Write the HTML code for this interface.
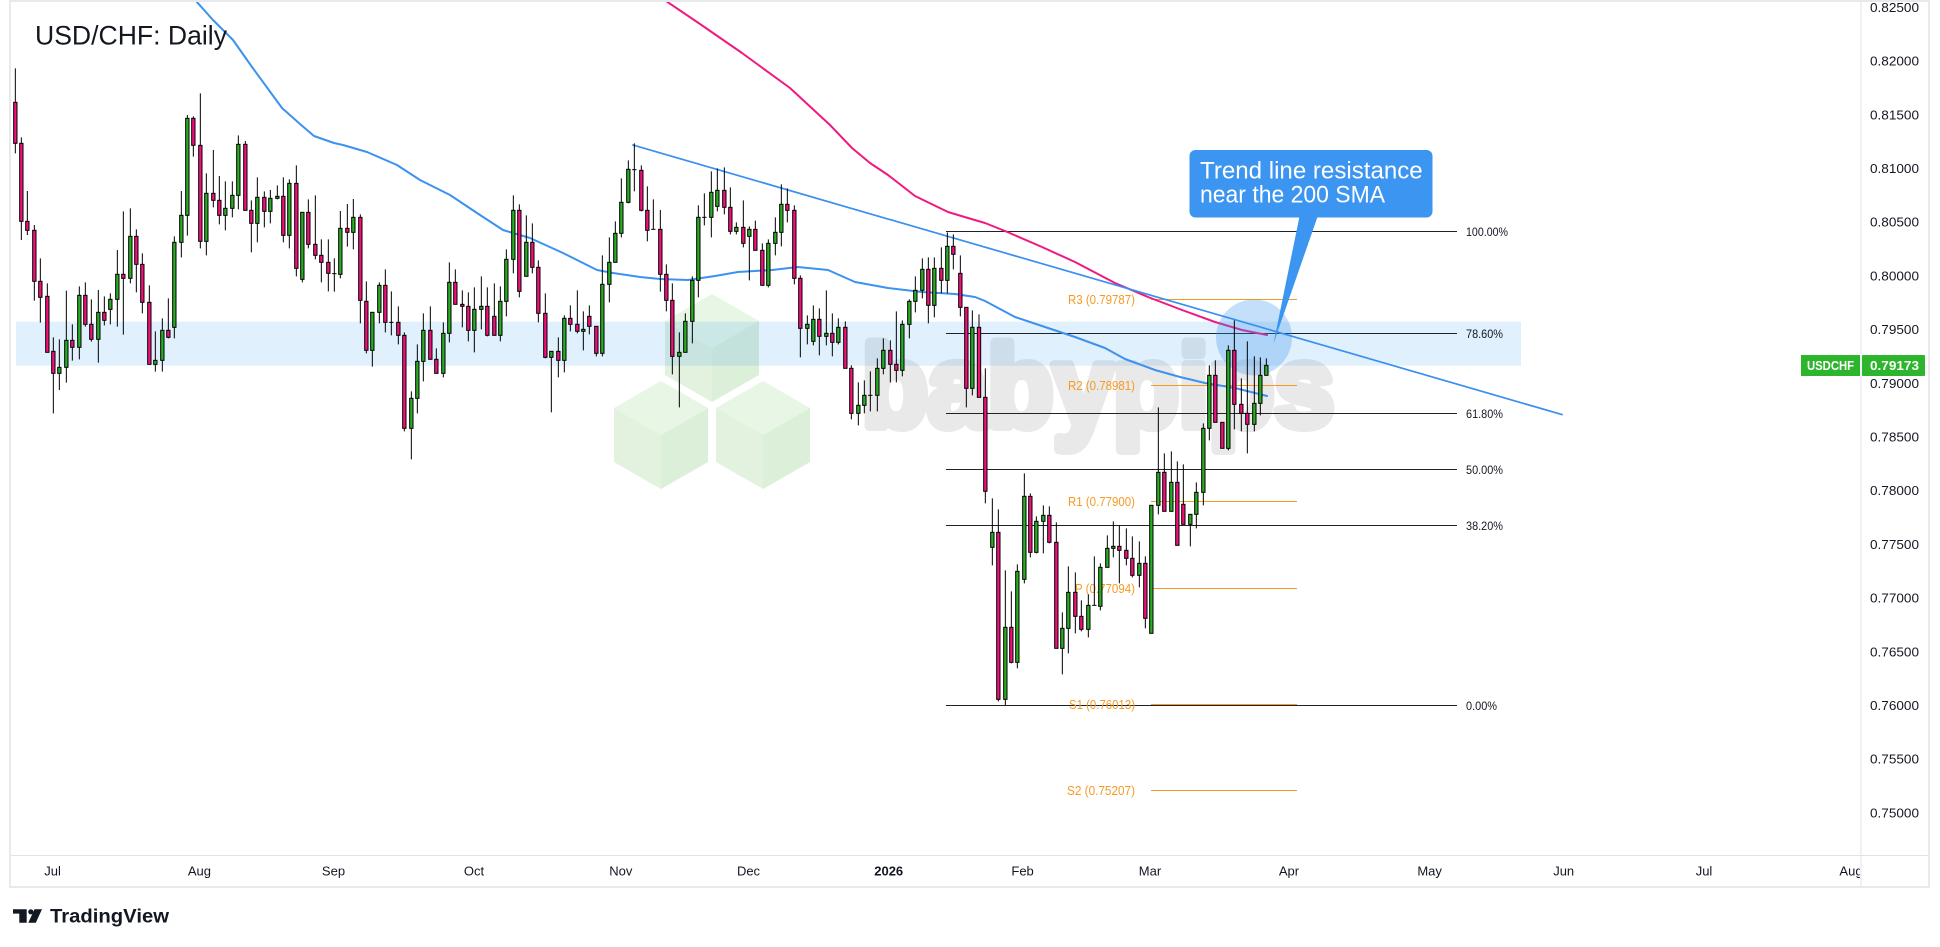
<!DOCTYPE html>
<html><head><meta charset="utf-8"><style>
html,body{margin:0;padding:0;background:#fff;width:1940px;height:947px;overflow:hidden}
svg{display:block}
text{font-family:"Liberation Sans",Arial,sans-serif}
</style></head><body>
<svg width="1940" height="947" viewBox="0 0 1940 947" xmlns="http://www.w3.org/2000/svg">
<defs>
<clipPath id="c"><rect x="11" y="2" width="1849" height="853"/></clipPath>
<clipPath id="t"><rect x="11" y="856" width="1849" height="30"/></clipPath>
</defs>
<rect x="10" y="1" width="1919" height="886" fill="#fff" stroke="#e9e9ec" stroke-width="2"/>

<g clip-path="url(#c)">
<!-- watermark -->
<text x="862" y="426" font-size="115" font-weight="bold" fill="#e9e9e9" stroke="#e9e9e9" stroke-width="10" stroke-linejoin="round" textLength="472" lengthAdjust="spacingAndGlyphs">babypips</text>
<g>
<polygon points="712,294 759,321 712,348 665,321" fill="#e8f6e5"/>
<polygon points="665,321 712,348 712,402 665,375" fill="#e2f2de"/>
<polygon points="712,348 759,321 759,375 712,402" fill="#dcefd8"/>
<polygon points="661,381 708,408 661,435 614,408" fill="#e8f6e5"/>
<polygon points="614,408 661,435 661,489 614,462" fill="#e2f2de"/>
<polygon points="661,435 708,408 708,462 661,489" fill="#dcefd8"/>
<polygon points="763,381 810,408 763,435 716,408" fill="#e8f6e5"/>
<polygon points="716,408 763,435 763,489 716,462" fill="#e2f2de"/>
<polygon points="763,435 810,408 810,462 763,489" fill="#dcefd8"/>
</g>
<!-- zone -->
<rect x="16" y="321.7" width="1505" height="44" fill="#2196f3" fill-opacity="0.14"/>

<!-- fib lines -->
<g stroke="#1e222d" stroke-width="1">
<line x1="946" y1="231.5" x2="1457" y2="231.5"/>
<line x1="946" y1="333.5" x2="1457" y2="333.5"/>
<line x1="946" y1="413.5" x2="1457" y2="413.5"/>
<line x1="946" y1="469.5" x2="1457" y2="469.5"/>
<line x1="946" y1="525.5" x2="1457" y2="525.5"/>
<line x1="946" y1="705.5" x2="1457" y2="705.5"/>
</g>
<g font-size="12" fill="#131722">
<text x="1466" y="236" textLength="42" lengthAdjust="spacingAndGlyphs">100.00%</text>
<text x="1466" y="338" textLength="37" lengthAdjust="spacingAndGlyphs">78.60%</text>
<text x="1466" y="418" textLength="37" lengthAdjust="spacingAndGlyphs">61.80%</text>
<text x="1466" y="474" textLength="37" lengthAdjust="spacingAndGlyphs">50.00%</text>
<text x="1466" y="530" textLength="37" lengthAdjust="spacingAndGlyphs">38.20%</text>
<text x="1466" y="710" textLength="31" lengthAdjust="spacingAndGlyphs">0.00%</text>
</g>
<!-- pivots -->
<g stroke="#f59a23" stroke-width="1">
<line x1="1151" y1="299.5" x2="1297" y2="299.5"/>
<line x1="1151" y1="385.5" x2="1297" y2="385.5"/>
<line x1="1151" y1="501.5" x2="1297" y2="501.5"/>
<line x1="1151" y1="588.5" x2="1297" y2="588.5"/>
<line x1="1151" y1="704.5" x2="1297" y2="704.5"/>
<line x1="1151" y1="790.5" x2="1297" y2="790.5"/>
</g>
<g font-size="13" fill="#f59a23" text-anchor="end">
<text x="1135" y="304" textLength="67" lengthAdjust="spacingAndGlyphs">R3 (0.79787)</text>
<text x="1135" y="390" textLength="67" lengthAdjust="spacingAndGlyphs">R2 (0.78981)</text>
<text x="1135" y="506" textLength="67" lengthAdjust="spacingAndGlyphs">R1 (0.77900)</text>
<text x="1135" y="593" textLength="60" lengthAdjust="spacingAndGlyphs">P (0.77094)</text>
<text x="1135" y="709" textLength="66" lengthAdjust="spacingAndGlyphs">S1 (0.76013)</text>
<text x="1135" y="795" textLength="68" lengthAdjust="spacingAndGlyphs">S2 (0.75207)</text>
</g>

<!-- SMAs and trend line -->
<g fill="none" stroke-linejoin="round" stroke-linecap="round">
<path d="M196 1 L213 20 L233 40 L252 67 L282 108 L300 124 L314 136 L334 143 L343 145 L367 152 L397 165 L420 180 L450 195 L477 213 L503 230 L530 238 L563 253 L597 270 L613 273 L640 277 L660 279 L688 280 L715 276 L738 272 L772 270 L798 267 L828 270 L855 282 L888 288 L922 292 L955 294 L975 297 L985 301 L1015 317 L1045 327 L1075 337 L1105 348 L1125 359 L1155 370 L1180 377 L1205 383 L1235 388 L1267 396" stroke="#3c92ee" stroke-width="2"/>
<path d="M666 1 L700 24 L742 53 L790 88 L830 125 L852 148 L870 163 L888 175 L915 196 L948 212 L968 218 L985 223 L1005 231 L1042 247 L1075 262 L1115 283 L1148 297 L1182 310 L1215 322 L1242 330 L1267 335" stroke="#f0197d" stroke-width="2"/>
<line x1="633" y1="145" x2="1562" y2="414.6" stroke="#3a8ff0" stroke-width="1.7"/>
</g>

<circle cx="1254" cy="337.5" r="38" fill="#3d94f0" fill-opacity="0.3"/>

<!-- candles group A -->
<g transform="translate(5 50) scale(0.333333)" stroke="#000" stroke-width="3">
<path fill="none" d="M31 55V310M49 262V570M67 423V555M88 525V752M106 625V818M127 700V907M145 862V1090M163 868V1020M184 722V998M202 823V932M223 709V928M241 697V830M259 748V875M280 720V938M298 739V826M316 730V823M337 600V830M355 484V854M376 475V700M394 538V727M412 610V790M433 706V943M451 844V965M472 805V965M490 745V865M508 559V865M529 423V622M547 195V557M565 199V320M586 130V595M604 370V616M625 300V472M643 378V523M661 394V541M682 394V502M700 256V478M721 273V481M739 451V607M757 382V577M778 424V532M796 420V520M817 406V448M835 382V577M853 388V595M874 346V679M892 487V697M910 448V595M931 436V628M949 568V697M970 568V724"/>
<g fill="#f50f7b">
<rect x="26" y="157" width="10" height="123"/><rect x="44" y="280" width="10" height="234"/><rect x="62" y="514" width="10" height="27"/><rect x="83" y="541" width="10" height="153"/><rect x="101" y="694" width="10" height="48"/><rect x="122" y="739" width="10" height="168"/><rect x="140" y="904" width="10" height="66"/><rect x="197" y="871" width="10" height="21"/><rect x="236" y="736" width="10" height="87"/><rect x="254" y="823" width="10" height="45"/><rect x="293" y="787" width="10" height="24"/><rect x="350" y="673" width="10" height="12"/><rect x="389" y="559" width="10" height="84"/><rect x="407" y="643" width="10" height="114"/><rect x="428" y="757" width="10" height="186"/><rect x="485" y="841" width="10" height="21"/><rect x="560" y="205" width="10" height="81"/><rect x="581" y="286" width="10" height="288"/><rect x="620" y="430" width="10" height="21"/><rect x="638" y="451" width="10" height="45"/><rect x="716" y="283" width="10" height="198"/><rect x="734" y="481" width="10" height="39"/><rect x="773" y="442" width="10" height="42"/><rect x="830" y="439" width="10" height="117"/><rect x="869" y="400" width="10" height="255"/><rect x="905" y="487" width="10" height="96"/><rect x="926" y="583" width="10" height="33"/><rect x="944" y="616" width="10" height="21"/><rect x="965" y="637" width="10" height="33"/>
</g>
<g fill="#28ae22">
<rect x="158" y="952" width="10" height="18"/><rect x="179" y="871" width="10" height="81"/><rect x="218" y="736" width="10" height="156"/><rect x="275" y="787" width="10" height="81"/><rect x="311" y="748" width="10" height="30"/><rect x="332" y="673" width="10" height="75"/><rect x="371" y="559" width="10" height="126"/><rect x="446" y="931" width="10" height="12"/><rect x="467" y="841" width="10" height="90"/><rect x="503" y="577" width="10" height="255"/><rect x="524" y="496" width="10" height="81"/><rect x="542" y="205" width="10" height="291"/><rect x="599" y="430" width="10" height="144"/><rect x="656" y="475" width="10" height="21"/><rect x="677" y="436" width="10" height="39"/><rect x="695" y="283" width="10" height="153"/><rect x="752" y="442" width="10" height="78"/><rect x="791" y="445" width="10" height="39"/><rect x="812" y="439" width="10" height="6"/><rect x="848" y="400" width="10" height="156"/><rect x="887" y="487" width="10" height="201"/>
</g>
</g>

<!-- candles group B -->
<g transform="translate(330 130) scale(0.333333)" stroke="#000" stroke-width="3">
<path fill="none" d="M13 385V485M31 243V445M52 222V350M70 207V358M91 253V580M109 454V670M127 547V710M148 457V580M166 418V607M184 484V616M205 529V643M223 607V904M244 784V988M262 643V850M280 550V754M301 529V688M319 655V730M340 577V742M358 397V637M376 418V523M397 481V592M415 487V634M433 472V667M454 439V598M472 472V619M493 460V616M511 469V634M529 358V559M550 196V430M568 223V502M589 256V439M607 280V430M625 391V577M646 490V685M664 664V847M685 622V742M703 556V727M721 526V604M742 481V610M760 544V661M778 526V613M799 589V679M817 376V679M838 322V517M856 274V397M874 145V322M895 91V220M913 40V184M934 106V244M952 169V334M970 208V298"/>
<g fill="#000" stroke="none">
<rect x="6.5" y="429.5" width="13" height="3"/><rect x="177.5" y="575.5" width="13" height="3"/><rect x="906.5" y="117.5" width="13" height="3"/><rect x="963.5" y="296.5" width="13" height="3"/>
</g>
<g fill="#f50f7b">
<rect x="47" y="295" width="10" height="12"/><rect x="86" y="262" width="10" height="249"/><rect x="104" y="514" width="10" height="147"/><rect x="161" y="466" width="10" height="111"/><rect x="200" y="577" width="10" height="39"/><rect x="218" y="616" width="10" height="279"/><rect x="296" y="601" width="10" height="87"/><rect x="314" y="688" width="10" height="42"/><rect x="371" y="457" width="10" height="66"/><rect x="392" y="523" width="10" height="6"/><rect x="410" y="529" width="10" height="72"/><rect x="467" y="529" width="10" height="87"/><rect x="488" y="559" width="10" height="57"/><rect x="563" y="241" width="10" height="243"/><rect x="602" y="337" width="10" height="75"/><rect x="620" y="412" width="10" height="138"/><rect x="641" y="550" width="10" height="132"/><rect x="680" y="664" width="10" height="27"/><rect x="716" y="565" width="10" height="18"/><rect x="737" y="583" width="10" height="21"/><rect x="773" y="559" width="10" height="30"/><rect x="794" y="589" width="10" height="81"/><rect x="929" y="121" width="10" height="120"/><rect x="947" y="241" width="10" height="60"/>
</g>
<g fill="#28ae22">
<rect x="26" y="295" width="10" height="138"/><rect x="65" y="262" width="10" height="45"/><rect x="122" y="547" width="10" height="114"/><rect x="143" y="466" width="10" height="81"/><rect x="239" y="805" width="10" height="90"/><rect x="257" y="694" width="10" height="111"/><rect x="275" y="601" width="10" height="93"/><rect x="335" y="610" width="10" height="120"/><rect x="353" y="457" width="10" height="153"/><rect x="428" y="538" width="10" height="63"/><rect x="449" y="529" width="10" height="9"/><rect x="506" y="514" width="10" height="102"/><rect x="524" y="388" width="10" height="126"/><rect x="545" y="241" width="10" height="147"/><rect x="584" y="337" width="10" height="102"/><rect x="659" y="664" width="10" height="18"/><rect x="698" y="565" width="10" height="126"/><rect x="755" y="598" width="10" height="6"/><rect x="812" y="463" width="10" height="207"/><rect x="833" y="397" width="10" height="66"/><rect x="851" y="310" width="10" height="87"/><rect x="869" y="217" width="10" height="93"/><rect x="890" y="118" width="10" height="99"/>
</g>
</g>

<!-- candles group C -->
<g transform="translate(655 150) scale(0.333333)" stroke="#000" stroke-width="3">
<path fill="none" d="M16 180V425M34 343V484M52 400V673M73 547V772M91 490V607M112 379V580M130 166V442M148 130V226M169 64V262M187 55V184M208 52V193M226 112V253M244 217V253M265 151V292M283 229V391M301 212V301M322 280V406M340 268V412M361 202V316M379 103V289M397 115V217M418 166V403M436 376V622M457 496V583M475 466V586M493 475V616M514 421V586M532 490V619M550 505V583M571 514V655M589 646V808M610 697V826M628 691V790M646 664V784M667 625V784M685 565V673M706 571V697M724 484V697M742 511V679M763 448V565M781 379V487M802 325V445M820 322V520M838 322V502M859 292V430M877 247V430M895 253V358M916 316V499M934 472V772M952 481V736"/>
<g fill="#000" stroke="none">
<rect x="141.5" y="200.5" width="13" height="3"/><rect x="639.5" y="734.5" width="13" height="3"/>
</g>
<g fill="#f50f7b">
<rect x="11" y="238" width="10" height="135"/><rect x="29" y="373" width="10" height="78"/><rect x="47" y="451" width="10" height="168"/><rect x="203" y="121" width="10" height="51"/><rect x="221" y="172" width="10" height="72"/><rect x="260" y="232" width="10" height="48"/><rect x="296" y="238" width="10" height="63"/><rect x="317" y="301" width="10" height="105"/><rect x="392" y="163" width="10" height="18"/><rect x="413" y="181" width="10" height="204"/><rect x="431" y="385" width="10" height="150"/><rect x="488" y="508" width="10" height="51"/><rect x="527" y="550" width="10" height="27"/><rect x="566" y="532" width="10" height="123"/><rect x="584" y="655" width="10" height="135"/><rect x="701" y="601" width="10" height="42"/><rect x="719" y="643" width="10" height="18"/><rect x="815" y="358" width="10" height="108"/><rect x="854" y="355" width="10" height="36"/><rect x="890" y="289" width="10" height="24"/><rect x="911" y="370" width="10" height="102"/><rect x="929" y="472" width="10" height="243"/>
</g>
<g fill="#28ae22">
<rect x="68" y="607" width="10" height="12"/><rect x="86" y="514" width="10" height="93"/><rect x="107" y="391" width="10" height="123"/><rect x="125" y="202" width="10" height="189"/><rect x="164" y="127" width="10" height="75"/><rect x="182" y="121" width="10" height="48"/><rect x="239" y="232" width="10" height="12"/><rect x="278" y="238" width="10" height="21"/><rect x="335" y="280" width="10" height="126"/><rect x="356" y="247" width="10" height="33"/><rect x="374" y="163" width="10" height="84"/><rect x="452" y="523" width="10" height="12"/><rect x="470" y="508" width="10" height="66"/><rect x="509" y="550" width="10" height="9"/><rect x="545" y="532" width="10" height="45"/><rect x="605" y="766" width="10" height="24"/><rect x="623" y="736" width="10" height="30"/><rect x="662" y="655" width="10" height="81"/><rect x="680" y="601" width="10" height="54"/><rect x="737" y="523" width="10" height="138"/><rect x="758" y="454" width="10" height="69"/><rect x="776" y="421" width="10" height="33"/><rect x="797" y="358" width="10" height="63"/><rect x="833" y="355" width="10" height="111"/><rect x="872" y="289" width="10" height="102"/><rect x="947" y="532" width="10" height="183"/>
</g>
</g>

<!-- candles group D -->
<g transform="translate(975 220) scale(0.333333)" stroke="#000" stroke-width="3">
<path fill="none" d="M12 283V532M31 445V850M52 835V1036M70 868V1444M91 1051V1455M109 1114V1330M127 1033V1345M148 760V1090M166 820V1012M184 889V1000M205 856V1000M223 859V970M244 907V1285M262 1177V1363M280 1039V1300M301 1057V1240M319 1141V1234M340 1123V1252M358 1009V1156M376 1030V1171M397 946V1042M415 904V1012M433 916V1090M454 925V1036M472 949V1072M493 964V1102M511 1009V1225M529 856V1240M550 562V883M568 700V874M589 694V874M607 724V976M625 733V913M646 883V979M664 787V925M685 610V856M703 436V661M721 421V607M742 607V685M760 376V691M778 301V628M799 475V634M817 364V700M838 409V634M856 412V586M874 415V466"/>
<g fill="#000" stroke="none">
<rect x="351.5" y="1154.5" width="13" height="3"/>
</g>
<g fill="#f50f7b">
<rect x="7" y="322" width="10" height="210"/><rect x="26" y="532" width="10" height="282"/><rect x="65" y="937" width="10" height="501"/><rect x="104" y="1222" width="10" height="105"/><rect x="161" y="829" width="10" height="168"/><rect x="218" y="886" width="10" height="81"/><rect x="239" y="967" width="10" height="318"/><rect x="296" y="1117" width="10" height="72"/><rect x="314" y="1189" width="10" height="39"/><rect x="428" y="979" width="10" height="12"/><rect x="449" y="991" width="10" height="24"/><rect x="467" y="1015" width="10" height="51"/><rect x="506" y="1030" width="10" height="165"/><rect x="563" y="757" width="10" height="117"/><rect x="602" y="787" width="10" height="189"/><rect x="620" y="853" width="10" height="60"/><rect x="716" y="466" width="10" height="141"/><rect x="737" y="607" width="10" height="78"/><rect x="773" y="391" width="10" height="162"/><rect x="794" y="553" width="10" height="27"/><rect x="812" y="580" width="10" height="33"/>
</g>
<g fill="#28ae22">
<rect x="47" y="937" width="10" height="45"/><rect x="86" y="1222" width="10" height="216"/><rect x="122" y="1054" width="10" height="273"/><rect x="143" y="829" width="10" height="249"/><rect x="179" y="904" width="10" height="93"/><rect x="200" y="886" width="10" height="18"/><rect x="257" y="1225" width="10" height="60"/><rect x="275" y="1117" width="10" height="108"/><rect x="335" y="1156" width="10" height="72"/><rect x="371" y="1042" width="10" height="117"/><rect x="392" y="985" width="10" height="57"/><rect x="410" y="979" width="10" height="6"/><rect x="488" y="1030" width="10" height="36"/><rect x="524" y="856" width="10" height="384"/><rect x="545" y="757" width="10" height="99"/><rect x="584" y="787" width="10" height="87"/><rect x="641" y="883" width="10" height="30"/><rect x="659" y="817" width="10" height="66"/><rect x="680" y="625" width="10" height="192"/><rect x="698" y="466" width="10" height="159"/><rect x="755" y="391" width="10" height="294"/><rect x="833" y="550" width="10" height="63"/><rect x="851" y="466" width="10" height="84"/><rect x="869" y="436" width="10" height="30"/>
</g>
</g>

<!-- callout -->
<polygon points="1300,214 1318.5,214 1273.5,343.5" fill="#3c95f1"/>
<rect x="1189.5" y="150" width="243" height="67.5" rx="6" fill="#3c95f1"/>
<text x="1200" y="178.3" font-size="24" fill="#fff" textLength="222.7" lengthAdjust="spacingAndGlyphs">Trend line resistance</text>
<text x="1200" y="202.3" font-size="24" fill="#fff" textLength="185" lengthAdjust="spacingAndGlyphs">near the 200 SMA</text>
</g>

<!-- axes -->
<line x1="1861" y1="2" x2="1861" y2="886" stroke="#e0e3eb" stroke-width="1"/>
<line x1="11" y1="855.5" x2="1928" y2="855.5" stroke="#e0e3eb" stroke-width="1"/>

<g font-size="13" fill="#131722">
<text x="1870" y="12" textLength="49" lengthAdjust="spacingAndGlyphs">0.82500</text>
<text x="1870" y="65.6" textLength="49" lengthAdjust="spacingAndGlyphs">0.82000</text>
<text x="1870" y="119.3" textLength="49" lengthAdjust="spacingAndGlyphs">0.81500</text>
<text x="1870" y="173" textLength="49" lengthAdjust="spacingAndGlyphs">0.81000</text>
<text x="1870" y="226.7" textLength="49" lengthAdjust="spacingAndGlyphs">0.80500</text>
<text x="1870" y="280.4" textLength="49" lengthAdjust="spacingAndGlyphs">0.80000</text>
<text x="1870" y="334.1" textLength="49" lengthAdjust="spacingAndGlyphs">0.79500</text>
<text x="1870" y="387.8" textLength="49" lengthAdjust="spacingAndGlyphs">0.79000</text>
<text x="1870" y="441.5" textLength="49" lengthAdjust="spacingAndGlyphs">0.78500</text>
<text x="1870" y="495.2" textLength="49" lengthAdjust="spacingAndGlyphs">0.78000</text>
<text x="1870" y="548.9" textLength="49" lengthAdjust="spacingAndGlyphs">0.77500</text>
<text x="1870" y="602.6" textLength="49" lengthAdjust="spacingAndGlyphs">0.77000</text>
<text x="1870" y="656.3" textLength="49" lengthAdjust="spacingAndGlyphs">0.76500</text>
<text x="1870" y="710" textLength="49" lengthAdjust="spacingAndGlyphs">0.76000</text>
<text x="1870" y="763.7" textLength="49" lengthAdjust="spacingAndGlyphs">0.75500</text>
<text x="1870" y="817.4" textLength="49" lengthAdjust="spacingAndGlyphs">0.75000</text>
</g>

<!-- last price label -->
<rect x="1801" y="355" width="59" height="21" fill="#2db52d"/>
<rect x="1862" y="355" width="63" height="21" rx="1" fill="#2db52d"/>
<text x="1830.5" y="370" font-size="13" font-weight="bold" fill="#fff" text-anchor="middle" textLength="47" lengthAdjust="spacingAndGlyphs">USDCHF</text>
<text x="1870" y="370" font-size="13" font-weight="bold" fill="#fff" textLength="49" lengthAdjust="spacingAndGlyphs">0.79173</text>

<!-- time axis -->
<g clip-path="url(#t)" font-size="13" fill="#131722" text-anchor="middle">
<text x="52.6" y="875.5">Jul</text>
<text x="199.4" y="875.5">Aug</text>
<text x="333.5" y="875.5">Sep</text>
<text x="474" y="875.5">Oct</text>
<text x="620.8" y="875.5">Nov</text>
<text x="748.5" y="875.5">Dec</text>
<text x="888.7" y="875.5" font-weight="bold">2026</text>
<text x="1022.6" y="875.5">Feb</text>
<text x="1150" y="875.5">Mar</text>
<text x="1289" y="875.5">Apr</text>
<text x="1429.6" y="875.5">May</text>
<text x="1563.7" y="875.5">Jun</text>
<text x="1704" y="875.5">Jul</text>
<text x="1851" y="875.5">Aug</text>
</g>

<!-- title -->
<text x="35" y="44.3" font-size="27" fill="#131722" textLength="192" lengthAdjust="spacingAndGlyphs">USD/CHF: Daily</text>

<!-- TradingView logo -->
<g fill="#131722">
<polygon points="13,909.3 26.7,909.3 26.7,922.7 19.3,922.7 19.3,913.6 13,913.6"/>
<circle cx="30.8" cy="911.8" r="2.6"/>
<polygon points="34.5,909.3 42,909.3 35.8,922.7 28.3,922.7"/>
<text x="50" y="922.7" font-size="19" font-weight="bold" textLength="119" lengthAdjust="spacingAndGlyphs">TradingView</text>
</g>
</svg>
</body></html>
